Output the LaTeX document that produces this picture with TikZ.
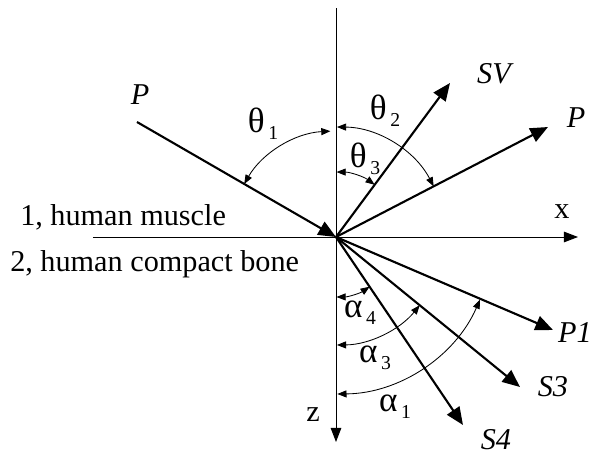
\documentclass[tikz,border=0pt]{standalone}
\usepackage{fontspec}
\setmainfont{Liberation Serif}
\usetikzlibrary{arrows.meta}
\newcommand{\gsub}[2]{{\fontsize{25}{28}\selectfont #1}\kern2.5pt\raisebox{-5pt}{\fontsize{14}{16}\selectfont #2}}
\begin{document}
\begin{tikzpicture}[x=0.025cm, y=0.025cm, font=\fontsize{21.5}{24}\selectfont,
    ray/.style={line width=1.5pt, -{Triangle[length=12.5pt,width=10.5pt]}},
    axis/.style={line width=0.7pt, -{Triangle[length=10pt,width=7.5pt]}},
    ang/.style={line width=0.6pt, {Triangle[length=6.5pt,width=5pt]}-{Triangle[length=6.5pt,width=5pt]}}]
        \useasboundingbox (-336,-225) rectangle (265,237);
        \coordinate (O) at (0,0);
        \coordinate (top) at (0,229);
        \coordinate (zend) at (0,-205);
        \coordinate (xbeg) at (-243,0);
        \coordinate (xend) at (242,0);
        \coordinate (pin) at (-199,115);
        \coordinate (sv) at (114,154);
        \coordinate (prefl) at (212,110);
        \coordinate (p1) at (217,-93);
        \coordinate (s3) at (184,-150);
        \coordinate (s4) at (127,-188);
        % axes
        \draw[line width=0.7pt] (top) -- (O);
        \draw[axis] (O) -- (zend);
        \draw[axis] (xbeg) -- (xend);
        % rays
        \draw[ray] (pin) -- (O);
        \foreach \t in {sv, prefl, p1, s3, s4}
            \draw[ray] (O) -- (\t);
        % angles
        \draw[ang] ([shift={(150:106)}]O) arc[start angle=150, end angle=93, radius=106];
        \draw[ang] ([shift={(89.5:110)}]O) arc[start angle=89.5, end angle=27.4, radius=110];
        \draw[ang] ([shift={(89.5:65)}]O) arc[start angle=89.5, end angle=53.5, radius=65];
        \draw[ang] ([shift={(-89.5:60)}]O) arc[start angle=-89.5, end angle=-55.9, radius=60];
        \draw[ang] ([shift={(-89.5:108)}]O) arc[start angle=-89.5, end angle=-39.2, radius=108];
        \draw[ang] ([shift={(-89.5:157)}]O) arc[start angle=-89.5, end angle=-23.5, radius=157];
        % labels
        \node (lp) at (-196,142) {\itshape P};
        \node (lsv) at (158,163) {\itshape SV};
        \node (lpr) at (240,119) {\itshape P};
        \node (lx) at (226,25) {x};
        \node (lz) at (-23,-178) {z};
        \node (lp1) at (239,-96) {\itshape P1};
        \node (ls3) at (217,-150) {\itshape S3};
        \node (ls4) at (160,-203) {\itshape S4};
        \node (lt1) at (-73,113) {\gsub{θ}{1}};
        \node (lt2) at (49,126) {\gsub{θ}{2}};
        \node (lt3) at (29,78) {\gsub{θ}{3}};
        \node (la4) at (24,-76) {\gsub{α}{4}};
        \node (la3) at (39,-121) {\gsub{α}{3}};
        \node (la1) at (59,-170) {\gsub{α}{1}};
        \node[anchor=base west, inner sep=0pt] (med1) at (-316,12) {1, human muscle};
        \node[anchor=base west, inner sep=0pt] (med2) at (-326,-34) {2, human compact bone};
    \end{tikzpicture}
\end{document}
